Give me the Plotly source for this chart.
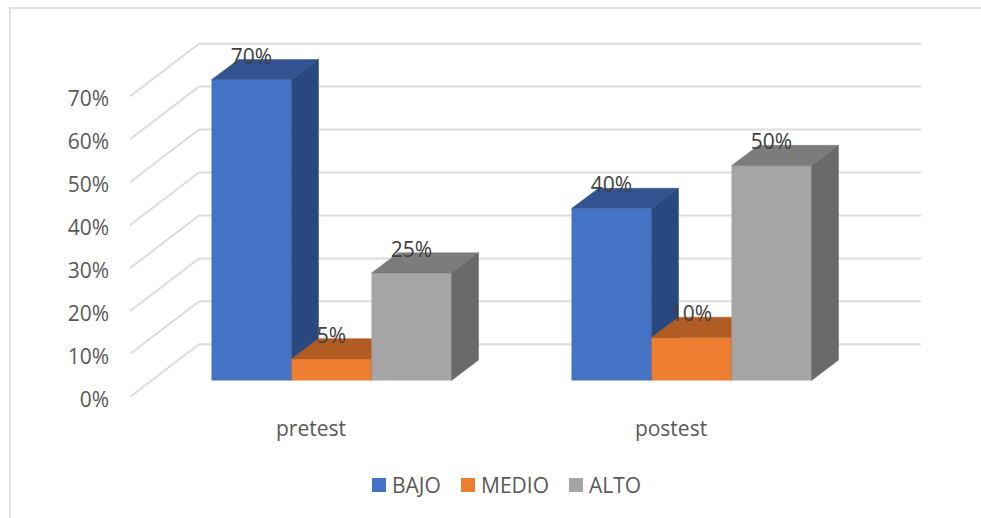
import plotly.graph_objects as go

# Survey results: share of students per level, before and after the programme
categories = ["pretest", "postest"]
series_names = ["BAJO", "MEDIO", "ALTO"]
bajo = [70, 40]
medio = [5, 10]
alto = [25, 50]
y_ticks = [0, 10, 20, 30, 40, 50, 60, 70]

series_values = [bajo, medio, alto]
front_colors = ["#4472C4", "#ED7D31", "#A5A5A5"]
top_colors = ["#325290", "#B05C22", "#7C7C7C"]
side_colors = ["#2A4880", "#9A5020", "#6A6A6A"]
text_grey = "#595959"
label_grey = "#404040"
grid_grey = "#DDDDDD"
font_family = "Open Sans"
font_size = 21

W, H = 981, 518
# Plot window in figure pixels; zero_px is where 0% meets the front plane
left, right, top, bottom = 130, 921, 30, 404
zero_px = 397
px_per_cat = 360.0
px_per_pct = 4.295

# Oblique projection: how far the wall sits behind the front plane, and the
# depth of the boxes, in pixels
wall_dx, wall_dy = 69.0, 52.7
bar_shift_x, bar_shift_y = 20.5, 16.6
box_dx, box_dy = 27.0, 20.3
bar_width = 80.0 / px_per_cat
first_cat_px = 311.0
# Tick labels sit slightly below their gridline's front end
tick_drop = 2.5


def x_range(shift=0.0):
    origin = first_cat_px + shift
    return [(left - origin) / px_per_cat, (right - origin) / px_per_cat]


def y_range(shift=0.0):
    base = zero_px - shift
    return [(base - bottom) / px_per_pct, (base - top) / px_per_pct]


fig = go.Figure()

# Floor diagonals and wall gridlines, drawn on the front-plane axes
wall_end = (right - first_cat_px) / px_per_cat
axis_start = (left - first_cat_px) / px_per_cat
drop_pct = tick_drop / px_per_pct
for t in y_ticks:
    fig.add_trace(go.Scatter(
        x=[axis_start, axis_start + wall_dx / px_per_cat, wall_end],
        y=[t + drop_pct, t + drop_pct + wall_dy / px_per_pct, t + drop_pct + wall_dy / px_per_pct],
        mode="lines", line=dict(color=grid_grey, width=2),
        hoverinfo="skip", showlegend=False,
    ))

# Each series lives on its own overlaid axis pair so it stacks over the last
for i, (name, values) in enumerate(zip(series_names, series_values)):
    suffix = str(i + 2)
    xa, ya = "x" + suffix, "y" + suffix
    centers = [c + (i - 1) * bar_width for c in range(len(categories))]
    dx = box_dx / px_per_cat
    dy = box_dy / px_per_pct
    for c, v in zip(centers, values):
        xl, xr = c - bar_width / 2, c + bar_width / 2
        fig.add_trace(go.Scatter(
            x=[xl, xr, xr + dx, xl + dx, xl], y=[v, v, v + dy, v + dy, v],
            xaxis=xa, yaxis=ya, mode="lines", fill="toself",
            fillcolor=top_colors[i], line=dict(color=top_colors[i], width=0.5),
            hoverinfo="skip", showlegend=False,
        ))
        fig.add_trace(go.Scatter(
            x=[xr, xr + dx, xr + dx, xr, xr], y=[0, dy, v + dy, v, 0],
            xaxis=xa, yaxis=ya, mode="lines", fill="toself",
            fillcolor=side_colors[i], line=dict(color=side_colors[i], width=0.5),
            hoverinfo="skip", showlegend=False,
        ))
    fig.add_trace(go.Bar(
        x=centers, y=values, width=bar_width, name=name,
        xaxis=xa, yaxis=ya, marker=dict(color=front_colors[i], line_width=0),
        showlegend=False,
    ))

# Value labels float just above the front edge of each box, on the topmost axes
label_x, label_y, label_text = [], [], []
for i, values in enumerate(series_values):
    for c, v in enumerate(values):
        label_x.append(c + (i - 1) * bar_width)
        label_y.append(v + 21.5 / px_per_pct)
        label_text.append(f"{v}%")
fig.add_trace(go.Scatter(
    x=label_x, y=label_y, text=label_text, mode="text",
    textposition="middle center", xaxis="x4", yaxis="y4",
    textfont=dict(family=font_family, size=font_size, color=label_grey),
    hoverinfo="skip", showlegend=False,
))

domain_x = [left / W, right / W]
domain_y = [1 - bottom / H, 1 - top / H]

layout = dict(
    width=W, height=H, autosize=False,
    margin=dict(l=0, r=0, t=0, b=0, pad=0),
    paper_bgcolor="white", plot_bgcolor="rgba(0,0,0,0)",
    barmode="overlay", showlegend=False,
    font=dict(family=font_family, size=font_size, color=text_grey),
    xaxis=dict(
        domain=domain_x, range=x_range(), tickmode="array", automargin=False,
        tickvals=list(range(len(categories))), ticktext=categories,
        showgrid=False, zeroline=False, showline=False, ticks="",
        ticklabelstandoff=10, tickfont=dict(size=font_size, color=text_grey),
    ),
    yaxis=dict(
        domain=domain_y, range=y_range(-tick_drop), tickmode="array", automargin=False,
        tickvals=y_ticks, ticktext=[f"{t}%" for t in y_ticks],
        showgrid=False, zeroline=False, showline=False, ticks="",
        ticklabelstandoff=20, tickfont=dict(size=font_size, color=text_grey),
    ),
)
for n in (2, 3, 4):
    layout[f"xaxis{n}"] = dict(
        domain=domain_x, range=x_range(bar_shift_x), overlaying="x", visible=False,
        automargin=False,
    )
    layout[f"yaxis{n}"] = dict(
        domain=domain_y, range=y_range(bar_shift_y), overlaying="y", visible=False,
        automargin=False,
    )

# Key below the chart: colour squares with their series names
key_squares = [372, 461, 569]
key_text = [392, 481, 589]
key_y = 485
shapes = []
annotations = []
for sq, tx, name, color in zip(key_squares, key_text, series_names, front_colors):
    shapes.append(dict(
        type="rect", xref="paper", yref="paper", line_width=0, fillcolor=color,
        x0=sq / W, x1=(sq + 14) / W, y0=1 - (key_y + 7) / H, y1=1 - (key_y - 7) / H,
    ))
    annotations.append(dict(
        xref="paper", yref="paper", x=tx / W, y=1 - key_y / H, text=name,
        showarrow=False, xanchor="left", yanchor="middle", xshift=-2.5,
        font=dict(family=font_family, size=font_size, color=text_grey),
    ))

# Chart frame: left and top edges only reach the visible area
shapes.append(dict(
    type="path", xref="paper", yref="paper",
    path=f"M {10/W} 0 L {10/W} {1-8/H} L 1 {1-8/H}",
    line=dict(color="#E0E0E0", width=2),
))

layout["shapes"] = shapes
layout["annotations"] = annotations
fig.update_layout(**layout)
fig.write_html("out.html")
